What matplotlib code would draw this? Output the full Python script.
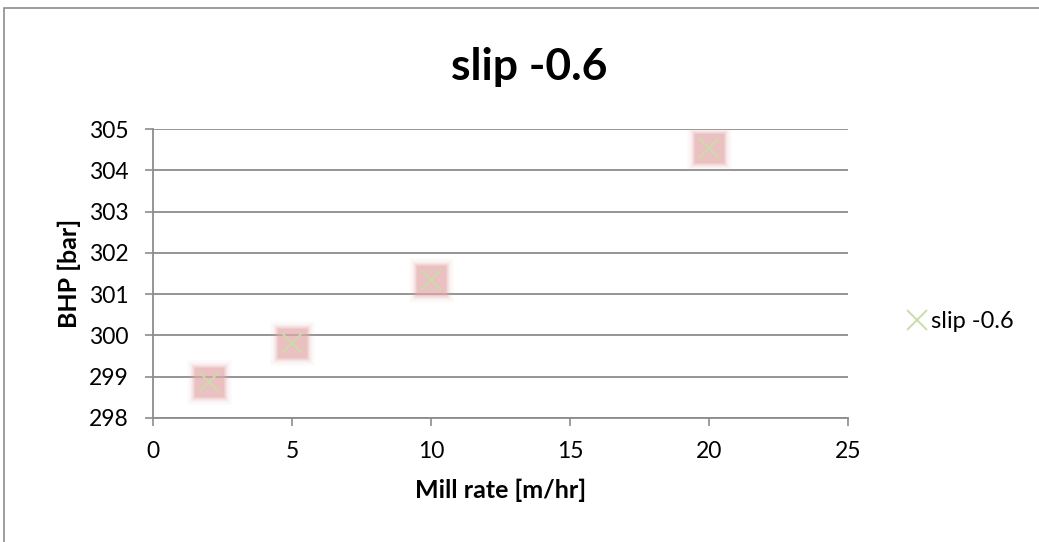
import matplotlib.pyplot as plt
from matplotlib.patches import Rectangle

plt.rcParams['font.family'] = ['Lato', 'DejaVu Sans']

# data
mill_rate = [2, 5, 10, 20]
bhp = [298.86, 299.81, 301.35, 304.53]
series_name = 'slip -0.6'

fig = plt.figure(figsize=(10.39, 5.42), dpi=100)
ax = fig.add_axes([153 / 1039, 1 - 418 / 542, 695 / 1039, 289 / 542])

# outer chart border (only left and top visible in the original)
fig.patches.append(Rectangle((4 / 1039, -0.1), 1.2, 1 - 8 / 542 + 0.1,
                             transform=fig.transFigure, fill=False,
                             edgecolor='#8c8c8c', linewidth=1.2))

# soft pink glow behind each marker
for s, a in [(31, 0.08), (28, 0.15), (25, 0.28), (22, 0.5)]:
    ax.plot(mill_rate, bhp, linestyle='none', marker='s', markersize=s,
            markerfacecolor='#e3a9a9', markeredgecolor='none', alpha=a, zorder=3)
ax.plot(mill_rate, bhp, linestyle='none', marker='x', markersize=14,
        markeredgewidth=1.4, color='#cbdcab', zorder=4, label=series_name)

ax.set_xlim(0, 25)
ax.set_ylim(298, 305)
ax.set_xticks(range(0, 26, 5))
ax.set_yticks(range(298, 306))
ax.grid(axis='y', color='#8c8c8c', linewidth=1.3)
ax.set_axisbelow(True)
for side in ['top', 'right']:
    ax.spines[side].set_visible(False)
for side in ['left', 'bottom']:
    ax.spines[side].set_color('#8c8c8c')
    ax.spines[side].set_linewidth(1.3)
ax.tick_params(axis='both', colors='#8c8c8c', labelcolor='black',
               labelsize=16.5, length=5.5, width=1.2, direction='out')
ax.tick_params(axis='x', pad=11)
ax.tick_params(axis='y', pad=12)

fig.text(529 / 1039, 1 - 80 / 542, 'slip -0.6', fontsize=32, fontweight='bold',
         ha='center', va='baseline')
ax.set_xlabel('Mill rate [m/hr]', fontsize=18, fontweight='bold', labelpad=12)
ax.set_ylabel('BHP [bar]', fontsize=18, fontweight='bold', labelpad=6)

leg = fig.legend(loc='center left', bbox_to_anchor=(906 / 1039, 1 - 322 / 542),
                 frameon=False, fontsize=17, handlelength=0.9,
                 handletextpad=0.15, borderaxespad=0, borderpad=0)

fig.savefig('out.png', dpi=100)
